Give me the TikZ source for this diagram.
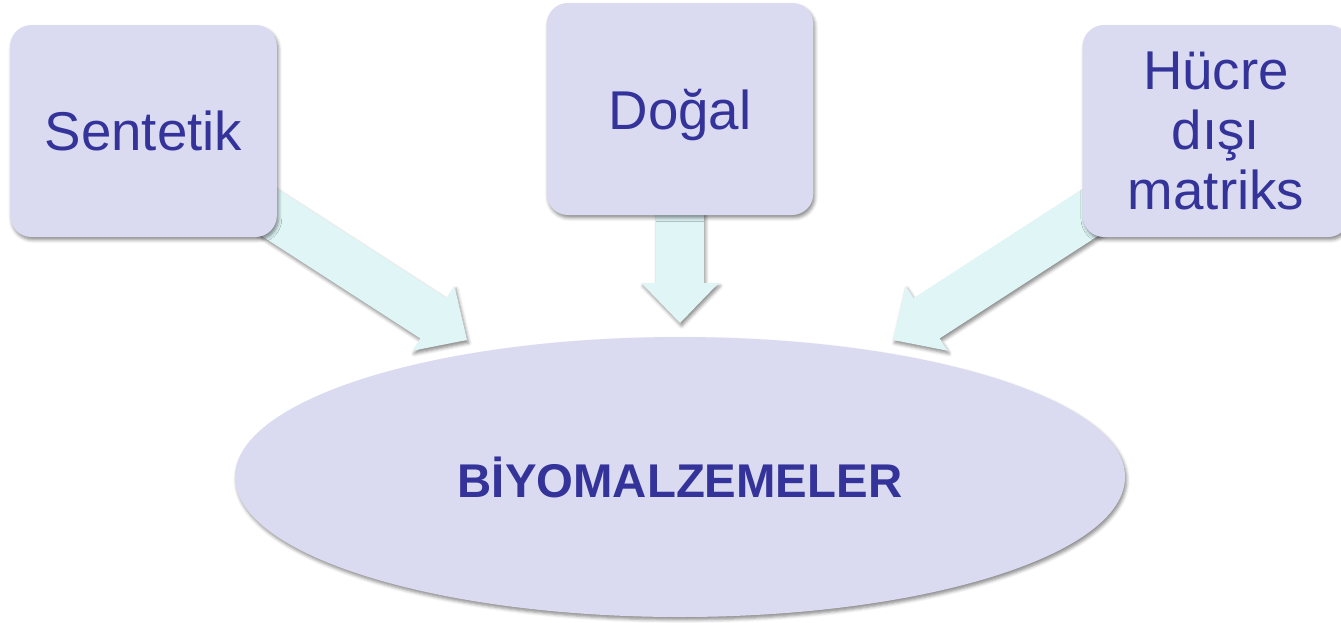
\documentclass[tikz,border=0pt]{standalone}
\usepackage{fontspec}
\newfontfamily\labfont{Liberation Sans}
\usetikzlibrary{calc,shapes.geometric,shadows.blur}

\definecolor{boxfill}{HTML}{DADAF1}
\definecolor{labtext}{HTML}{333399}
\definecolor{arrowfill}{HTML}{DFF5F6}

\tikzset{
  softshadow/.style={blur shadow={shadow xshift=1.2pt,shadow yshift=-2.2pt,
      shadow blur radius=2.5pt,shadow opacity=45}},
  sourcebox/.style={rectangle,rounded corners=16pt,fill=boxfill,softshadow,
      minimum width=200pt,minimum height=159pt,inner sep=0pt,align=center,
      text=labtext,font=\labfont\fontsize{41}{45}\selectfont},
  targetoval/.style={ellipse,fill=boxfill,softshadow,minimum width=667.5pt,
      minimum height=210pt,inner sep=0pt,text=labtext,
      font=\labfont\bfseries\fontsize{35.5}{40}\selectfont},
  blockarrow/.style={fill=arrowfill,softshadow},
}

% block arrow from a node centre (#1) to a tip (#2):
% shaft half-width 18pt, head half-width 29pt, head length 30pt
\newcommand\blkarrow[2]{%
  \path[blockarrow]
    ($(#1)!18pt!90:(#2)$) --
    ($($(#2)!30pt!(#1)$)!18pt!-90:(#1)$) --
    ($($(#2)!30pt!(#1)$)!29pt!-90:(#1)$) --
    (#2) --
    ($($(#2)!30pt!(#1)$)!29pt!90:(#1)$) --
    ($($(#2)!30pt!(#1)$)!18pt!90:(#1)$) --
    ($(#1)!18pt!-90:(#2)$) -- cycle;}

\begin{document}
\begin{tikzpicture}[x=0.75pt,y=-0.75pt]
  \useasboundingbox (0,0) rectangle (1341,622);

  % anchor points for the arrows
  \coordinate (ts) at (467,340);
  \coordinate (td) at (680,323);
  \coordinate (th) at (893,340);
  \coordinate (cs) at (143.5,131);
  \coordinate (cd) at (680,109);
  \coordinate (ch) at (1216,131);

  % arrows first, so the boxes cover their tails
  \blkarrow{cs}{ts}
  \blkarrow{cd}{td}
  \blkarrow{ch}{th}

  % source boxes
  \node[sourcebox] (s) at (cs) {Sentetik};
  \node[sourcebox,text depth=0pt] (d) at (cd) {Doğal};
  \node[sourcebox] (h) at (ch) {Hücre\\dışı\\matriks};

  % target
  \node[targetoval] (bio) at (680,477) {BİYOMALZEMELER};
\end{tikzpicture}
\end{document}
